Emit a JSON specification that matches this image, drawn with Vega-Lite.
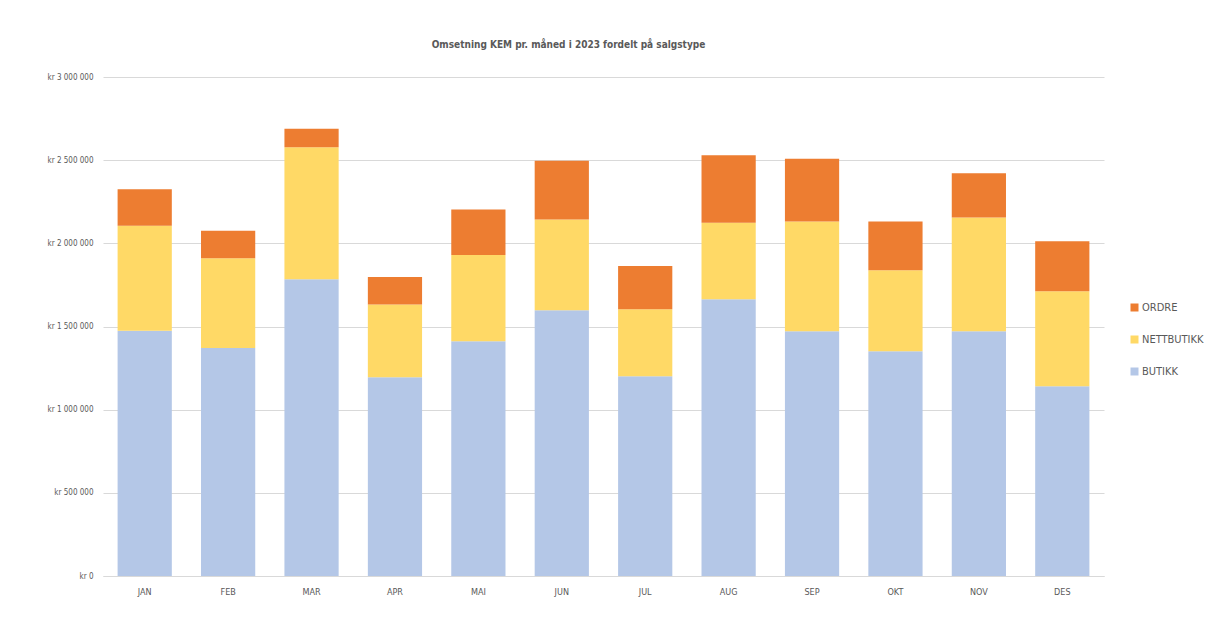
{
  "$schema": "https://vega.github.io/schema/vega-lite/v6.json",
  "autosize": {"type": "none"},
  "padding": {"left": 103, "top": 77, "right": 104, "bottom": 51},
  "width": 1001,
  "height": 499,
  "background": "white",
  "title": {
    "text": "Omsetning KEM pr. måned i 2023 fordelt på salgstype",
    "font": "DejaVu Sans Condensed, Lato, sans-serif",
    "fontSize": 10,
    "fontWeight": "bold",
    "color": "#595959",
    "anchor": "middle",
    "dx": -35,
    "offset": 23
  },
  "data": {
    "values": [
      {"month": "JAN", "type": "BUTIKK", "value": 1474000},
      {"month": "JAN", "type": "NETTBUTIKK", "value": 632000},
      {"month": "JAN", "type": "ORDRE", "value": 219000},
      {"month": "FEB", "type": "BUTIKK", "value": 1370000},
      {"month": "FEB", "type": "NETTBUTIKK", "value": 540000},
      {"month": "FEB", "type": "ORDRE", "value": 166000},
      {"month": "MAR", "type": "BUTIKK", "value": 1784000},
      {"month": "MAR", "type": "NETTBUTIKK", "value": 793000},
      {"month": "MAR", "type": "ORDRE", "value": 112000},
      {"month": "APR", "type": "BUTIKK", "value": 1195000},
      {"month": "APR", "type": "NETTBUTIKK", "value": 437000},
      {"month": "APR", "type": "ORDRE", "value": 166000},
      {"month": "MAI", "type": "BUTIKK", "value": 1411000},
      {"month": "MAI", "type": "NETTBUTIKK", "value": 519000},
      {"month": "MAI", "type": "ORDRE", "value": 274000},
      {"month": "JUN", "type": "BUTIKK", "value": 1598000},
      {"month": "JUN", "type": "NETTBUTIKK", "value": 546000},
      {"month": "JUN", "type": "ORDRE", "value": 353000},
      {"month": "JUL", "type": "BUTIKK", "value": 1201000},
      {"month": "JUL", "type": "NETTBUTIKK", "value": 403000},
      {"month": "JUL", "type": "ORDRE", "value": 260000},
      {"month": "AUG", "type": "BUTIKK", "value": 1664000},
      {"month": "AUG", "type": "NETTBUTIKK", "value": 460000},
      {"month": "AUG", "type": "ORDRE", "value": 405000},
      {"month": "SEP", "type": "BUTIKK", "value": 1471000},
      {"month": "SEP", "type": "NETTBUTIKK", "value": 661000},
      {"month": "SEP", "type": "ORDRE", "value": 377000},
      {"month": "OKT", "type": "BUTIKK", "value": 1351000},
      {"month": "OKT", "type": "NETTBUTIKK", "value": 487000},
      {"month": "OKT", "type": "ORDRE", "value": 294000},
      {"month": "NOV", "type": "BUTIKK", "value": 1471000},
      {"month": "NOV", "type": "NETTBUTIKK", "value": 685000},
      {"month": "NOV", "type": "ORDRE", "value": 266000},
      {"month": "DES", "type": "BUTIKK", "value": 1141000},
      {"month": "DES", "type": "NETTBUTIKK", "value": 571000},
      {"month": "DES", "type": "ORDRE", "value": 300000}
    ]
  },
  "mark": {"type": "bar"},
  "encoding": {
    "x": {
      "field": "month",
      "type": "nominal",
      "sort": null,
      "title": null,
      "scale": {"paddingInner": 0.35, "paddingOuter": 0.175},
      "axis": {
        "labelAngle": 0,
        "labelFont": "DejaVu Sans Condensed, Lato, sans-serif",
        "labelFontSize": 9,
        "labelColor": "#595959",
        "labelPadding": 11,
        "ticks": false,
        "domainColor": "#d9d9d9",
        "domainWidth": 1
      }
    },
    "y": {
      "field": "value",
      "type": "quantitative",
      "aggregate": "sum",
      "stack": "zero",
      "title": null,
      "scale": {"domain": [0, 3000000], "nice": false},
      "axis": {
        "values": [0, 500000, 1000000, 1500000, 2000000, 2500000, 3000000],
        "labelExpr": "'kr ' + replace(format(datum.value, ','), regexp(',', 'g'), ' ')",
        "labelFont": "DejaVu Sans Condensed, Lato, sans-serif",
        "labelFontSize": 8,
        "labelColor": "#595959",
        "labelPadding": 10,
        "ticks": false,
        "domain": false,
        "gridColor": "#d9d9d9",
        "gridWidth": 1
      }
    },
    "color": {
      "field": "type",
      "type": "nominal",
      "scale": {
        "domain": ["ORDRE", "NETTBUTIKK", "BUTIKK"],
        "range": ["#ED7D31", "#FFD966", "#B4C7E7"]
      },
      "legend": {
        "title": null,
        "orient": "none",
        "legendX": 1026,
        "legendY": 225,
        "symbolType": "square",
        "symbolSize": 64,
        "symbolStrokeWidth": 0,
        "labelFont": "DejaVu Sans Condensed, Lato, sans-serif",
        "labelFontSize": 11,
        "labelColor": "#595959",
        "rowPadding": 20,
        "labelOffset": 2
      }
    },
    "order": {"field": "type", "sort": "ascending"}
  },
  "config": {
    "view": {"stroke": null}
  }
}
